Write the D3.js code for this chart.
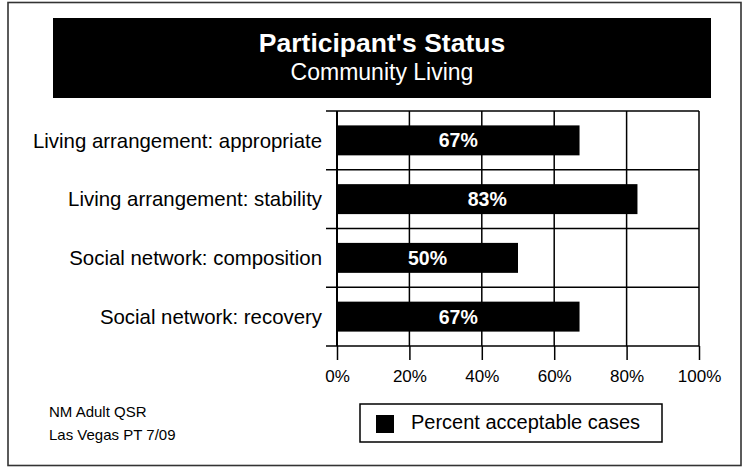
<!DOCTYPE html>
<html>
<head>
<meta charset="utf-8">
<script src="https://cdn.jsdelivr.net/npm/d3@7/dist/d3.min.js"></script>
<style>
  html, body { margin: 0; padding: 0; background: #fff; }
  svg { display: block; font-family: "Liberation Sans", Arial, Helvetica, sans-serif; }
</style>
</head>
<body>
<svg id="chart" width="742" height="467"></svg>
<script>
// Chart data
const categories = [
  "Living arrangement: appropriate",
  "Living arrangement: stability",
  "Social network: composition",
  "Social network: recovery"
];
const values = [0.67, 0.83, 0.50, 0.67];
const valueLabels = ["67%", "83%", "50%", "67%"];
const tickValues = [0, 0.2, 0.4, 0.6, 0.8, 1.0];
const titleText = "Participant's Status";
const subtitleText = "Community Living";
const seriesName = "Percent acceptable cases";
const notes = ["NM Adult QSR", "Las Vegas PT 7/09"];

const svg = d3.select("#chart");

// Outer frame
svg.append("rect")
  .attr("x", 8).attr("y", 2.5)
  .attr("width", 733).attr("height", 463)
  .attr("fill", "#fff")
  .attr("stroke", "#333").attr("stroke-width", 1.6);

// Title banner
svg.append("rect")
  .attr("x", 53).attr("y", 18)
  .attr("width", 658).attr("height", 80)
  .attr("fill", "#000");
svg.append("text")
  .attr("x", 382).attr("y", 52)
  .attr("text-anchor", "middle")
  .attr("fill", "#fff")
  .attr("font-size", 26.5).attr("font-weight", "bold")
  .text(titleText);
svg.append("text")
  .attr("x", 382).attr("y", 80)
  .attr("text-anchor", "middle")
  .attr("fill", "#fff")
  .attr("font-size", 23)
  .text(subtitleText);

// Plot scales
const plot = { left: 337, right: 699, top: 111, bottom: 346 };
const x = d3.scaleLinear().domain([0, 1]).range([plot.left, plot.right]);
const y = d3.scaleBand()
  .domain(categories)
  .range([plot.top, plot.bottom])
  .paddingInner(0.49)
  .paddingOuter(0.245);
const step = y.step();

const g = svg.append("g");

// Vertical grid lines
g.selectAll("line.vgrid")
  .data(tickValues)
  .join("line")
  .attr("class", "vgrid")
  .attr("x1", d => x(d)).attr("x2", d => x(d))
  .attr("y1", plot.top).attr("y2", plot.bottom)
  .attr("stroke", "#000").attr("stroke-width", 1.5);

// Category separators (extend left as ticks)
const seps = d3.range(categories.length + 1).map(i => plot.top + i * step);
g.selectAll("line.sep")
  .data(seps)
  .join("line")
  .attr("class", "sep")
  .attr("x1", plot.left - 11).attr("x2", plot.right)
  .attr("y1", d => d).attr("y2", d => d)
  .attr("stroke", "#000").attr("stroke-width", 1.5);

// Left axis line
g.append("line")
  .attr("x1", plot.left).attr("x2", plot.left)
  .attr("y1", plot.top).attr("y2", plot.bottom)
  .attr("stroke", "#000").attr("stroke-width", 2);

// Bars
g.selectAll("rect.bar")
  .data(values)
  .join("rect")
  .attr("class", "bar")
  .attr("x", x(0))
  .attr("y", (d, i) => y(categories[i]))
  .attr("width", d => x(d) - x(0))
  .attr("height", y.bandwidth())
  .attr("fill", "#000");

// Value labels inside bars
g.selectAll("text.val")
  .data(values)
  .join("text")
  .attr("class", "val")
  .attr("x", d => (x(0) + x(d)) / 2)
  .attr("y", (d, i) => y(categories[i]) + y.bandwidth() / 2)
  .attr("dy", "0.36em")
  .attr("text-anchor", "middle")
  .attr("fill", "#fff")
  .attr("font-size", 19.5).attr("font-weight", "bold")
  .text((d, i) => valueLabels[i]);

// Category labels
g.selectAll("text.cat")
  .data(categories)
  .join("text")
  .attr("class", "cat")
  .attr("x", 322)
  .attr("y", d => y(d) + y.bandwidth() / 2)
  .attr("dy", "0.36em")
  .attr("text-anchor", "end")
  .attr("fill", "#000")
  .attr("font-size", 20.4)
  .text(d => d);

// Bottom axis
const xAxis = d3.axisBottom(x)
  .tickValues(tickValues)
  .tickFormat(d3.format(".0%"))
  .tickSize(14)
  .tickPadding(10);
const ax = svg.append("g")
  .attr("transform", `translate(0,${plot.bottom})`)
  .call(xAxis);
ax.select(".domain").remove();
ax.selectAll(".tick line").attr("stroke", "#000").attr("stroke-width", 1.5);
ax.selectAll(".tick text")
  .attr("fill", "#000")
  .attr("font-size", 17)
  .attr("font-family", "Liberation Sans, Arial, sans-serif");

// Legend
const lg = svg.append("g");
lg.append("rect")
  .attr("x", 360).attr("y", 404)
  .attr("width", 302).attr("height", 38)
  .attr("fill", "#fff")
  .attr("stroke", "#000").attr("stroke-width", 1.5);
lg.append("rect")
  .attr("x", 376).attr("y", 415)
  .attr("width", 18).attr("height", 18)
  .attr("fill", "#000");
lg.append("text")
  .attr("x", 411).attr("y", 428.5)
  .attr("fill", "#000")
  .attr("font-size", 20)
  .text(seriesName);

// Footnotes
svg.selectAll("text.note")
  .data(notes)
  .join("text")
  .attr("class", "note")
  .attr("x", 49)
  .attr("y", (d, i) => 417 + i * 23)
  .attr("fill", "#000")
  .attr("font-size", 15)
  .text(d => d);
</script>
</body>
</html>
